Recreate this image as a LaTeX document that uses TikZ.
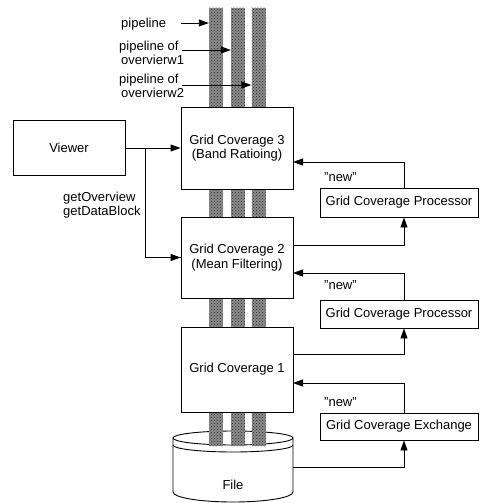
\documentclass[tikz,border=0pt]{standalone}
\usepackage{fontspec}
\setmainfont{Liberation Sans}
\usetikzlibrary{arrows.meta,patterns,calc}
\begin{document}
\begin{tikzpicture}[x=1pt,y=-1pt,
  font=\fontsize{13}{14.5}\selectfont,
  box/.style={draw,line width=0.9pt,fill=white,inner sep=0pt,align=center},
  lbl/.style={inner sep=0pt,align=left},
  arr/.style={line width=0.9pt,-{Triangle[length=10pt,width=7pt]}},
  ln/.style={line width=0.9pt},
  pipe/.style={draw=none,inner sep=0pt,minimum width=14pt,minimum height=438pt,
     preaction={fill=black!45},pattern=crosshatch dots,pattern color=black!85}]
\useasboundingbox (0,0) rectangle (479,503);
% cylinder (File)
\draw[ln,fill=white] (173,438) -- (173,492) arc[start angle=180,end angle=0,x radius=60,y radius=10] -- (293,438);
\draw[ln,fill=white] (233,438) ellipse[x radius=60,y radius=7];
\draw[ln] (173,445) arc[start angle=180,end angle=0,x radius=60,y radius=7];
\node[inner sep=0pt] (file) at (233,485) {File};
\coordinate (fileR) at (293,467);
% pipes
\node[pipe] (p1) at (216,227) {};
\node[pipe] (p2) at (238,227) {};
\node[pipe] (p3) at (258.5,227) {};
% boxes
\node[box,minimum width=112pt,minimum height=82pt] (gc3) at (237,148) {Grid Coverage 3\\(Band Ratioing)};
\node[box,minimum width=112pt,minimum height=81pt] (gc2) at (237,257.5) {Grid Coverage 2\\(Mean Filtering)};
\node[box,minimum width=112pt,minimum height=85pt] (gc1) at (237,369.5) {Grid Coverage 1};
\node[box,minimum width=112pt,minimum height=55pt] (viewer) at (69,147.5) {Viewer};
\node[box,minimum width=158pt,minimum height=29pt] (gcp1) at (399,202.5) {Grid Coverage Processor};
\node[box,minimum width=158pt,minimum height=28pt] (gcp2) at (399,314) {Grid Coverage Processor};
\node[box,minimum width=158pt,minimum height=27pt] (gce) at (399,426.5) {Grid Coverage Exchange};
% labels
\node[lbl,anchor=west] (l1) at (121,24) {pipeline};
\node[lbl,anchor=west] (l2) at (119,53) {pipeline of\\\hspace*{2pt}overvierw1};
\node[lbl,anchor=west] (l3) at (119,86) {pipeline of\\\hspace*{2pt}overvierw2};
\node[lbl,anchor=west] (lg) at (63,205) {getOverview\\getDataBlock};
\node[lbl,anchor=west] (n1) at (324,177) {"new"};
\node[lbl,anchor=west] (n2) at (324,285) {"new"};
\node[lbl,anchor=west] (n3) at (324,402) {"new"};
% pipe arrows
\coordinate (a1) at (181,23);
\coordinate (a2) at (182,50);
\coordinate (a3) at (182,85);
\draw[arr] (a1) -- (a1 -| p1.west);
\draw[arr] (a2) -- (a2 -| p2.west);
\draw[arr] (a3) -- (a3 -| p3.west);
% viewer arrows
\coordinate (vb) at (145,148);
\draw[arr] (viewer.east |- gc3.west) -- (gc3.west);
\draw[ln] (vb) |- (gc2.west);
\draw[arr] (vb |- gc2.west) -- (gc2.west);
% right-hand loops
\coordinate (vx) at (404,0);
\coordinate (r3i) at (293,162);
\coordinate (r2o) at (293,245);
\coordinate (r2i) at (293,273);
\coordinate (r1o) at (293,354);
\coordinate (r1i) at (293,383);
\draw[arr] (gcp1.north -| vx) |- (r3i);
\draw[arr] (r2o) -| (gcp1.south -| vx);
\draw[arr] (gcp2.north -| vx) |- (r2i);
\draw[arr] (r1o) -| (gcp2.south -| vx);
\draw[arr] (gce.north -| vx) |- (r1i);
\draw[arr] (fileR) -| (gce.south -| vx);
\end{tikzpicture}
\end{document}
